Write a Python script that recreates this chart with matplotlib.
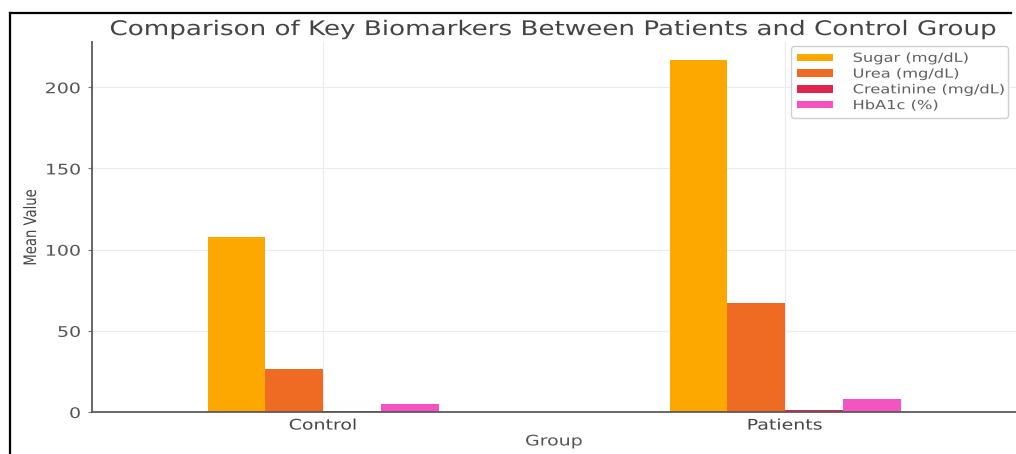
import numpy as np
import matplotlib
matplotlib.use("Agg")
import matplotlib.pyplot as plt
from matplotlib.patheffects import AbstractPathEffect
from matplotlib.transforms import Affine2D
from matplotlib.lines import Line2D

# ---- data -------------------------------------------------------------
groups = ["Control", "Patients"]
sugar = [108, 217]
urea = [26.5, 67]
creatinine = [0.9, 1.5]
hba1c = [5.0, 8.0]
series_labels = ["Sugar (mg/dL)", "Urea (mg/dL)", "Creatinine (mg/dL)", "HbA1c (%)"]
series_colors = ["#FCA800", "#EF6A22", "#E0244E", "#F552C2"]
y_ticks = [0, 50, 100, 150, 200]

plt.rcParams["font.family"] = ["DejaVu Sans"]


class WideText(AbstractPathEffect):
    """Draw text glyphs widened horizontally about a chosen anchor."""

    def __init__(self, sx=1.3, anchor="center"):
        super().__init__()
        self.sx = sx
        self.anchor = anchor

    def draw_path(self, renderer, gc, tpath, affine, rgbFace=None):
        ext = affine.transform_path(tpath).get_extents()
        x0 = {"left": ext.x0, "center": 0.5 * (ext.x0 + ext.x1), "right": ext.x1}[self.anchor]
        widen = Affine2D().translate(-x0, 0).scale(self.sx, 1.0).translate(x0, 0)
        renderer.draw_path(gc, tpath, affine + widen, rgbFace)


SX = 1.3
W, H = 1016, 454
fig = plt.figure(figsize=(W / 100, H / 100), dpi=100)
fig.patch.set_facecolor("white")

ax_left, ax_right = 92 / W, 1.0
ax_bottom, ax_top = 42 / H, 1 - 42 / H
ax = fig.add_axes([ax_left, ax_bottom, ax_right - ax_left, ax_top - ax_bottom])

x = np.arange(len(groups))
width = 0.125
all_series = [sugar, urea, creatinine, hba1c]
for i, (vals, lab, col) in enumerate(zip(all_series, series_labels, series_colors)):
    ax.bar(x + (i - 1.5) * width, vals, width, color=col, label=lab, linewidth=0)

ax.set_xlim(-0.5, 1.5)
ax.set_xticks(x, groups)
ax.set_yticks(y_ticks)

ax.grid(True, color="#ebebeb", linewidth=0.8)
ax.set_axisbelow(True)
for side in ("top", "right"):
    ax.spines[side].set_visible(False)
for side in ("left", "bottom"):
    ax.spines[side].set_color("#5a5a5a")
    ax.spines[side].set_linewidth(1.3)

ax.tick_params(axis="y", length=3, width=0.8, color="#777777", pad=5,
               labelsize=10.5, labelcolor="#555555")
ax.tick_params(axis="x", length=0, pad=4, labelsize=10.5, labelcolor="#444444")

ax.set_title("Comparison of Key Biomarkers Between Patients and Control Group",
             fontsize=14.5, color="#444444", pad=5,
             path_effects=[WideText(SX, "center")])
ax.set_xlabel("Group", fontsize=10.5, color="#555555",
              path_effects=[WideText(SX, "center")])
ax.set_ylabel("Mean Value", fontsize=9.5, color="#444444",
              path_effects=[WideText(SX, "center")])
ax.xaxis.set_label_coords(0.5, -0.058)
ax.yaxis.set_label_coords(-0.059, 0.5)

for lbl in ax.get_yticklabels():
    lbl.set_path_effects([WideText(SX, "right")])
for lbl in ax.get_xticklabels():
    lbl.set_path_effects([WideText(SX, "center")])

leg = ax.legend(loc="upper right", bbox_to_anchor=(0.7565, 0.7946, 0.2348, 0.194),
                mode="expand", borderaxespad=0, fontsize=9, handlelength=2.9,
                handleheight=0.55, handletextpad=1.6, labelspacing=0.22,
                borderpad=0.45, frameon=True, edgecolor="#d0d0d0", framealpha=1)
for t in leg.get_texts():
    t.set_color("#5f5f5f")
    t.set_path_effects([WideText(SX, "left")])

# outer frame lines along the left and top of the picture
fx, fy, fx2 = 10 / W, 1 - 13 / H, 1011 / W
fig.add_artist(Line2D([fx, fx], [0, fy], transform=fig.transFigure, color="black", lw=1.6))
fig.add_artist(Line2D([fx, fx2], [fy, fy], transform=fig.transFigure, color="black", lw=1.6))

fig.savefig("out.png", dpi=100)
